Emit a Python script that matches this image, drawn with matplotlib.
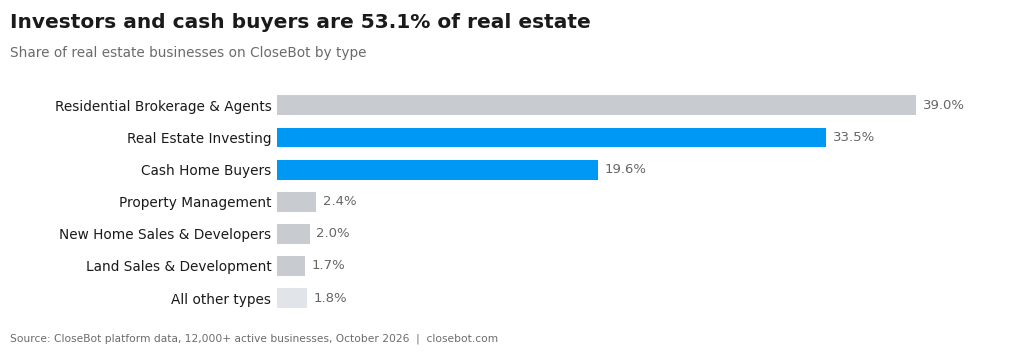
import matplotlib.pyplot as plt

categories = [
    "Residential Brokerage & Agents",
    "Real Estate Investing",
    "Cash Home Buyers",
    "Property Management",
    "New Home Sales & Developers",
    "Land Sales & Development",
    "All other types",
]
shares = [39.0, 33.5, 19.6, 2.4, 2.0, 1.7, 1.8]
highlight = [False, True, True, False, False, False, False]

GRAY = "#C8CBD0"
BLUE = "#0098F5"
LIGHT = "#E1E4E8"

colors = []
for i, h in enumerate(highlight):
    if h:
        colors.append(BLUE)
    elif categories[i] == "All other types":
        colors.append(LIGHT)
    else:
        colors.append(GRAY)

fig = plt.figure(figsize=(10.24, 3.53), dpi=100)
ax = fig.add_axes([277 / 1024, 0.110, (1000 - 277) / 1024, 0.637])

y = list(range(len(categories)))
ax.barh(y, shares, height=0.62, color=colors)
ax.set_ylim(len(categories) - 0.5, -0.5)
ax.set_xlim(0, 44.1)

for yi, v in zip(y, shares):
    ax.text(v + 0.4, yi, f"{v:.1f}%", va="center", ha="left",
            fontsize=9.5, color="#666666")

ax.set_yticks(y)
ax.set_yticklabels(categories, fontsize=9.8, color="#1a1a1a")
ax.tick_params(axis="y", length=0, pad=4)
ax.set_xticks([])
for s in ax.spines.values():
    s.set_visible(False)

fig.text(10 / 1024, 1 - 23 / 353, "Investors and cash buyers are 53.1% of real estate",
         fontsize=14.5, fontweight="bold", color="#1a1a1a", va="center", ha="left")
fig.text(10 / 1024, 1 - 53 / 353, "Share of real estate businesses on CloseBot by type",
         fontsize=9.8, color="#6b6b6b", va="center", ha="left")
fig.text(10 / 1024, 1 - 339 / 353,
         "Source: CloseBot platform data, 12,000+ active businesses, October 2026  |  closebot.com",
         fontsize=7.7, color="#6b6b6b", va="center", ha="left")

fig.savefig("out.png", dpi=100, facecolor="white")
